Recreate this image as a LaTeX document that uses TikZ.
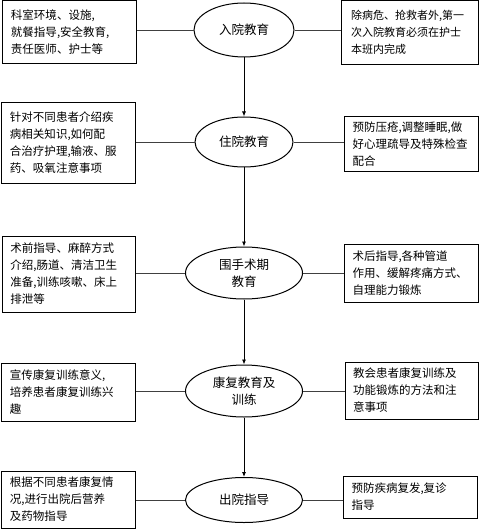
\documentclass[tikz,border=0pt]{standalone}
\usepackage{fontspec}
\setmainfont{Noto Sans CJK SC}
\usetikzlibrary{shapes.geometric,arrows.meta}
\XeTeXinterchartokenstate=1
\XeTeXinterchartoks 1 1 = {\nobreak\hskip0pt plus 1pt\relax}
\XeTeXinterchartoks 1 3 = {\nobreak\hskip0pt plus 1pt\relax}
\XeTeXinterchartoks 3 1 = {\nobreak\hskip0pt plus 1pt\relax}
\XeTeXinterchartoks 0 1 = {\nobreak\hskip0pt plus 1pt\relax}
\XeTeXinterchartoks 1 0 = {\nobreak\hskip0pt plus 1pt\relax}
\XeTeXinterchartoks 3 0 = {\nobreak\hskip0pt plus 1pt\relax}
\XeTeXinterchartoks 0 3 = {\nobreak\hskip0pt plus 1pt\relax}
\newcommand\boxfnt{\fontsize{11.5bp}{17bp}\selectfont}
\newcommand\boxfntsm{\fontsize{11bp}{17bp}\selectfont}
\newcommand\ellfnt{\fontsize{12.5bp}{17bp}\selectfont}
\tikzset{
  tbox/.style={draw, line width=1bp, text width=117bp, inner xsep=8bp, inner ysep=0pt, align=justify, font=\boxfnt},
  stage/.style={draw, ellipse, line width=1bp, inner sep=0pt, align=center, font=\ellfnt},
  flow/.style={-{Latex[length=5bp,width=4bp]}, line width=0.8bp},
  link/.style={line width=0.8bp, draw=black!75}
}
\begin{document}
\begin{tikzpicture}[x=1bp,y=-1bp]
\useasboundingbox (0,0) rectangle (479,529);
% stages
\node[stage, minimum width=100bp, minimum height=54bp] (E1) at (244,30) {入院教育};
\node[stage, minimum width=98bp, minimum height=50bp] (E2) at (244,142) {住院教育};
\node[stage, minimum width=117bp, minimum height=52bp] (E3) at (244,273) {围手术期\\教育};
\node[stage, minimum width=117bp, minimum height=52bp] (E4) at (244,391) {康复教育及\\训练};
\node[stage, minimum width=117bp, minimum height=45bp] (E5) at (244,500) {出院指导};
% left boxes
\node[tbox, minimum height=63bp] (L1) at (69.5,32.5) {科室环境、设施,\\就餐指导,安全教育,\\责任医师、护士等};
\node[tbox, minimum height=80bp] (L2) at (68.5,143) {针对不同患者介绍疾\linebreak 病相关知识,如何配\linebreak 合治疗护理,输液、服\linebreak 药、吸氧注意事项};
\node[tbox, minimum height=76bp] (L3) at (69,274) {术前指导、麻醉方式\linebreak 介绍,肠道、清洁卫生\linebreak 准备,训练咳嗽、床上\linebreak 排泄等};
\node[tbox, minimum height=58bp] (L4) at (68.5,392) {宣传康复训练意义,\linebreak 培养患者康复训练兴\linebreak 趣};
\node[tbox, minimum height=57bp] (L5) at (68.5,499.5) {根据不同患者康复情\linebreak 况,进行出院后营养\linebreak 及药物指导};
% right boxes
\node[tbox, font=\boxfntsm, minimum width=137bp, minimum height=64bp] (R1) at (409.5,32.5) {除病危、抢救者外,第一\linebreak 次入院教育必须在护士\linebreak 本班内完成};
\node[tbox, minimum width=134bp, minimum height=55bp] (R2) at (411,144.5) {预防压疮,调整睡眠,做\linebreak 好心理疏导及特殊检查\linebreak 配合};
\node[tbox, minimum width=134bp, minimum height=58bp] (R3) at (411,273) {术后指导,各种管道\linebreak 作用、缓解疼痛方式、\linebreak 自理能力锻炼};
\node[tbox, minimum width=133bp, minimum height=57bp] (R4) at (411.5,390.5) {教会患者康复训练及\linebreak 功能锻炼的方法和注\linebreak 意事项};
\node[tbox, minimum width=134bp, minimum height=42bp] (R5) at (410,497) {预防疾病复发,复诊\linebreak 指导};
% arrows
\draw[flow] (E1.south) -- (E2.north);
\draw[flow] (E2.south) -- (E3.north);
\draw[flow] (E3.south) -- (E4.north);
\draw[flow] (E4.south) -- (E5.north);
% side links
\foreach \i in {1,...,5}{
  \draw[link] (L\i.east |- E\i.west) -- (E\i.west);
  \draw[link] (E\i.east) -- (R\i.west |- E\i.east);
}
\end{tikzpicture}
\end{document}
